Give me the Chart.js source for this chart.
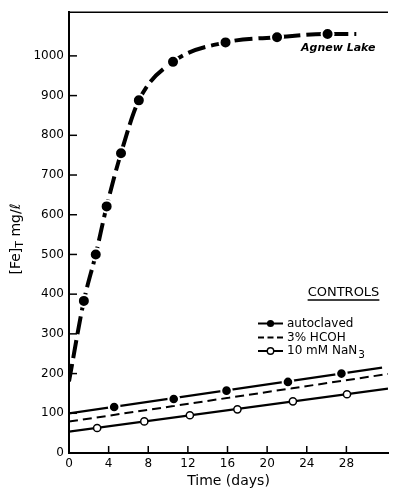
<!DOCTYPE html>
<html><head><meta charset="utf-8">
<script src="https://cdn.jsdelivr.net/npm/chart.js@4/dist/chart.umd.min.js"></script>
<style>html,body{margin:0;padding:0;background:#fff;}canvas{display:block;}</style>
</head><body>
<canvas id="c" width="396" height="490"></canvas>
<script>
// ---- data ----
const agnewDays = [1.5, 2.7, 3.8, 5.25, 7.05, 10.5, 15.8, 21.0, 26.1];
const agnewFe   = [383, 500, 621, 755, 888, 985, 1034, 1047, 1055];
const agnewCurveDays = [0, 1.5, 2.7, 3.8, 5.25, 7.05, 10.5, 15.8, 21.0, 26.1, 29.0];
const agnewCurveFe   = [180, 383, 500, 621, 755, 888, 985, 1034, 1047, 1055, 1055];

const autoDays = [4.56, 10.57, 15.9, 22.1, 27.5];
const autoFe   = [116, 136, 157, 179, 200];
const autoLineDays = [0, 31.6];
const autoLineFe   = [100, 215];

const hcohLineDays = [0, 32.2];
const hcohLineFe   = [79, 199];

const nanDays = [2.84, 7.6, 12.2, 17.0, 22.6, 28.06];
const nanFe   = [63, 79.5, 95, 110, 130, 148];
const nanLineDays = [0, 32.2];
const nanLineFe   = [54, 162];

const xTickValues = [0, 4, 8, 12, 16, 20, 24, 28];
const yTickValues = [0, 100, 200, 300, 400, 500, 600, 700, 800, 900, 1000];
const legendNames = [['autoclaved', ''], ['3% HCOH', ''], ['10 mM NaN', '3']];
const curveLabel = 'Agnew Lake';
const legendTitle = 'CONTROLS';
const xTitle = 'Time (days)';
const yTitleParts = ['[Fe]', 'T', ' mg/\u2113'];

// ---- drawing ----
const FAM = '"DejaVu Sans", sans-serif';
const pts = (xs, ys) => xs.map((v, i) => ({x: v, y: ys[i]}));

const deco = {
  id: 'deco',
  afterDraw(chart) {
    const {ctx, chartArea: a, scales: {x, y}} = chart;
    ctx.save();
    ctx.strokeStyle = '#000'; ctx.fillStyle = '#000';
    ctx.lineWidth = 1.5;
    ctx.beginPath(); ctx.moveTo(a.left, a.top); ctx.lineTo(a.right, a.top); ctx.stroke();
    yTickValues.forEach(v => { if (v === 0) return; const py = y.getPixelForValue(v);
      ctx.beginPath(); ctx.moveTo(a.left, py); ctx.lineTo(a.left + 8, py); ctx.stroke(); });
    xTickValues.forEach(v => { if (v === 0) return; const px = x.getPixelForValue(v);
      ctx.beginPath(); ctx.moveTo(px, a.bottom); ctx.lineTo(px, a.bottom - 7); ctx.stroke(); });

    // x title
    ctx.font = '14px ' + FAM; ctx.textAlign = 'center'; ctx.textBaseline = 'middle';
    ctx.fillText(xTitle, (a.left + a.right) / 2, 481.5);

    // y title (rotated, with subscript)
    ctx.save();
    ctx.translate(16, 239); ctx.rotate(-Math.PI / 2);
    ctx.textAlign = 'left'; ctx.textBaseline = 'middle';
    const fMain = '14px ' + FAM, fSub = '11px ' + FAM;
    ctx.font = fMain; const w0 = ctx.measureText(yTitleParts[0]).width;
    ctx.font = fSub; const w1 = ctx.measureText(yTitleParts[1]).width;
    ctx.font = fMain; const w2 = ctx.measureText(yTitleParts[2]).width;
    let sx = -(w0 + w1 + w2) / 2;
    ctx.font = fMain; ctx.fillText(yTitleParts[0], sx, 0); sx += w0;
    ctx.font = fSub; ctx.fillText(yTitleParts[1], sx, 4); sx += w1;
    ctx.font = fMain; ctx.fillText(yTitleParts[2], sx, 0);
    ctx.restore();

    // curve label
    ctx.font = 'italic bold 11px ' + FAM; ctx.textAlign = 'left'; ctx.textBaseline = 'middle';
    ctx.fillText(curveLabel, 301, 48);

    // legend
    ctx.font = '13px ' + FAM; ctx.textAlign = 'center';
    const tw = ctx.measureText(legendTitle).width;
    ctx.fillText(legendTitle, 343.5, 292.5);
    ctx.lineWidth = 1.3;
    ctx.beginPath(); ctx.moveTo(343.5 - tw / 2, 300); ctx.lineTo(343.5 + tw / 2, 300); ctx.stroke();

    const ly = [323.5, 337.5, 351];
    ctx.textAlign = 'left';
    legendNames.forEach((nm, i) => {
      const yy = ly[i];
      ctx.lineWidth = 2;
      ctx.setLineDash(i === 1 ? [6, 3.5] : []);
      ctx.beginPath(); ctx.moveTo(258, yy); ctx.lineTo(283, yy); ctx.stroke();
      ctx.setLineDash([]);
      if (i === 0) { ctx.beginPath(); ctx.arc(270.5, yy, 3.6, 0, Math.PI * 2); ctx.fill(); }
      if (i === 2) { ctx.beginPath(); ctx.arc(270.5, yy, 3.2, 0, Math.PI * 2);
        ctx.fillStyle = '#fff'; ctx.fill(); ctx.fillStyle = '#000'; ctx.lineWidth = 1.4; ctx.stroke(); }
      ctx.font = '12px ' + FAM;
      ctx.fillText(nm[0], 287, yy);
      if (nm[1]) { const w = ctx.measureText(nm[0]).width; ctx.font = '10.5px ' + FAM; ctx.fillText(nm[1], 288 + w, yy + 4); }
    });
    ctx.restore();
  }
};

new Chart(document.getElementById('c'), {
  type: 'scatter',
  data: {
    datasets: [
      {data: pts(agnewCurveDays, agnewCurveFe), showLine: true, borderColor: '#000', borderWidth: 4,
       borderDash: [18, 6], cubicInterpolationMode: 'monotone', pointRadius: 0, order: 5},
      {data: pts(agnewDays, agnewFe), showLine: false, pointRadius: 6, pointBackgroundColor: '#000',
       pointBorderColor: '#fff', pointBorderWidth: 2, order: 1},
      {data: pts(autoLineDays, autoLineFe), showLine: true, borderColor: '#000', borderWidth: 2.2, pointRadius: 0, order: 5},
      {data: pts(autoDays, autoFe), showLine: false, pointRadius: 5.3, pointBackgroundColor: '#000',
       pointBorderColor: '#fff', pointBorderWidth: 2, order: 1},
      {data: pts(hcohLineDays, hcohLineFe), showLine: true, borderColor: '#000', borderWidth: 2,
       borderDash: [9, 5], pointRadius: 0, order: 5},
      {data: pts(nanLineDays, nanLineFe), showLine: true, borderColor: '#000', borderWidth: 2.2, pointRadius: 0, order: 5},
      {data: pts(nanDays, nanFe), showLine: false, pointRadius: 3.6, pointBackgroundColor: '#fff',
       pointBorderColor: '#000', pointBorderWidth: 1.5, order: 1}
    ]
  },
  options: {
    responsive: false, animation: false, devicePixelRatio: 1,
    layout: {padding: {top: 12, right: 0, left: 0, bottom: 0}},
    plugins: {legend: {display: false}, tooltip: {enabled: false}},
    scales: {
      x: {type: 'linear', min: 0, max: 32.2,
        afterBuildTicks: s => { s.ticks = xTickValues.map(v => ({value: v})); },
        afterFit: s => { s.height = 37; },
        grid: {drawOnChartArea: false, drawTicks: false},
        border: {display: true, color: '#000', width: 2},
        ticks: {color: '#000', font: {family: FAM, size: 12}, padding: 4, maxRotation: 0, autoSkip: false,
          callback: v => String(v)}},
      y: {type: 'linear', min: 0, max: 1110,
        afterBuildTicks: s => { s.ticks = yTickValues.map(v => ({value: v})); },
        afterFit: s => { s.width = 69; },
        grid: {drawOnChartArea: false, drawTicks: false},
        border: {display: true, color: '#000', width: 2},
        ticks: {color: '#000', font: {family: FAM, size: 12}, padding: 5, autoSkip: false,
          callback: v => String(v)}}
    }
  },
  plugins: [deco]
});
</script>
</body></html>
